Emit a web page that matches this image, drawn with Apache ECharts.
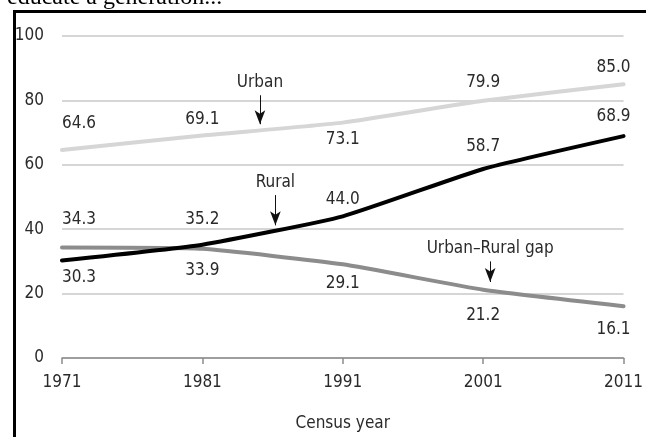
<!DOCTYPE html>
<html>
<head>
<meta charset="utf-8">
<script src="https://cdn.jsdelivr.net/npm/echarts@6/dist/echarts.min.js"></script>
<style>
  html, body { margin: 0; padding: 0; background: #fff; }
  #chart { width: 646px; height: 437px; }
</style>
</head>
<body>
<div id="chart"></div>
<script>
// census years and shares (%)
const years = [1971, 1981, 1991, 2001, 2011];
const urban = [64.6, 69.1, 73.1, 79.9, 85.0];
const rural = [30.3, 35.2, 44.0, 58.7, 68.9];
const gap = [34.3, 33.9, 29.1, 21.2, 16.1];
const yTicks = [0, 20, 40, 60, 80, 100];

// annotation arrows: [label, x (year), from y, to y]
const notes = [
  ['Urban', 1985.1, 81.6, 72.6],
  ['Rural', 1986.2, 50.6, 41.2],
  ['Urban\u2013Rural gap', 2001.5, 30.0, 23.6]
];

const FONT = '"Liberation Sans Narrow", "DejaVu Sans Condensed", sans-serif';
const TEXT = '#2a2a2a';

// label offsets (vertical, px) per point; negative = above
const urbanDy = [-26, -16, 17, -18, -17];
const ruralDy = [17, -25, -17, -22, -20];
const gapDy = [-28, 22, 19, 26, 23];

const chart = echarts.init(document.getElementById('chart'));

/**
 * build points with labels placed around them
 */
const buildData = (values, dy) => values.map((v, i) => {
  let align = 'center';
  let dx = 0;
  if (i === 0) { align = 'left'; dx = 0; }
  if (i === values.length - 1) { align = 'right'; dx = 7; }
  return {
    value: [years[i], v],
    label: { align: align, offset: [dx, dy[i]] }
  };
});

const makeSeries = (name, values, dy, color, note) => ({
  name: name,
  type: 'line',
  data: buildData(values, dy),
  smooth: 0.15,
  symbol: 'circle',
  symbolSize: 0,
  showSymbol: true,
  lineStyle: { color: color, width: 4, cap: 'round', join: 'round' },
  itemStyle: { color: color },
  label: {
    show: true,
    position: 'inside',
    verticalAlign: 'middle',
    color: TEXT,
    fontFamily: FONT,
    fontSize: 17,
    formatter: p => p.value[1].toFixed(1)
  },
  markLine: note ? {
    silent: true,
    symbol: ['none', 'arrow'],
    symbolSize: [8, 14],
    lineStyle: { color: '#111', width: 1, type: 'solid' },
    label: {
      show: true,
      position: 'start',
      distance: 4,
      color: TEXT,
      fontFamily: FONT,
      fontSize: 17,
      formatter: note[0]
    },
    data: [[{ coord: [note[1], note[2]] }, { coord: [note[1], note[3]] }]]
  } : undefined
});

const option = {
  animation: false,
  grid: { left: 62, right: 22, top: 36, bottom: 77 },
  graphic: [
    {
      type: 'text',
      style: {
        x: 7,
        y: 10,
        verticalAlign: 'bottom',
        text: 'educate a generation...',
        font: '24px "Liberation Serif", serif',
        fill: '#000'
      }
    },
    {
      type: 'line',
      shape: { x1: 13, y1: 11.5, x2: 646, y2: 11.5 },
      style: { stroke: '#000', lineWidth: 3 }
    },
    {
      type: 'line',
      shape: { x1: 14.5, y1: 10, x2: 14.5, y2: 437 },
      style: { stroke: '#000', lineWidth: 3 }
    }
  ],
  xAxis: {
    type: 'value',
    min: years[0],
    max: years[years.length - 1],
    name: 'Census year',
    nameLocation: 'middle',
    nameGap: 57,
    nameTextStyle: { color: TEXT, fontFamily: FONT, fontSize: 17 },
    axisLine: { show: true, lineStyle: { color: '#8c8c8c', width: 1.5 } },
    axisTick: { show: true, length: 6, customValues: years, lineStyle: { color: '#8c8c8c', width: 1.5 } },
    axisLabel: {
      customValues: years,
      margin: 16,
      color: TEXT,
      fontFamily: FONT,
      fontSize: 17,
      formatter: v => String(v)
    },
    splitLine: { show: false }
  },
  yAxis: {
    type: 'value',
    min: yTicks[0],
    max: yTicks[yTicks.length - 1],
    interval: 20,
    axisLine: { show: false },
    axisTick: { show: false },
    axisLabel: { margin: 18, color: TEXT, fontFamily: FONT, fontSize: 17 },
    splitLine: { lineStyle: { color: '#c8c8c8', width: 1.5 } }
  },
  series: [
    makeSeries('Urban', urban, urbanDy, '#d6d6d6', notes[0]),
    makeSeries('Urban-Rural gap', gap, gapDy, '#8c8c8c', notes[2]),
    makeSeries('Rural', rural, ruralDy, '#000000', notes[1])
  ]
};

chart.setOption(option);
</script>
</body>
</html>
